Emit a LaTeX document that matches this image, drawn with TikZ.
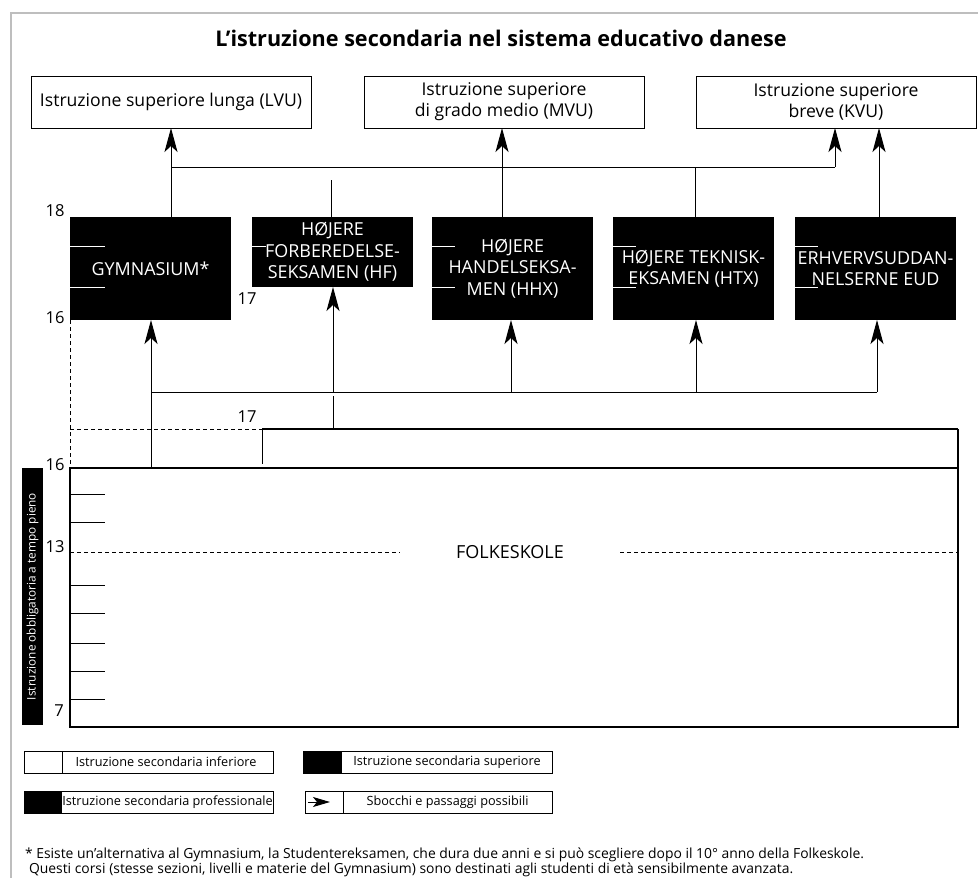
\documentclass[tikz,border=0pt]{standalone}
\usepackage{fontspec}
\setmainfont{Open Sans}
\usetikzlibrary{arrows.meta}
\begin{document}
\begin{tikzpicture}[x=1pt,y=-1pt,
  every node/.style={inner sep=0pt, outer sep=0pt},
  hibox/.style={draw, line width=1pt, minimum width=280pt, minimum height=52pt,
    align=center, font=\fontsize{17.6}{21}\selectfont},
  blackbox/.style={fill=black, minimum width=161pt, minimum height=103pt,
    text=white, align=center, font=\fontsize{17.9}{21.5}\selectfont},
  link/.style={line width=1pt},
  arr/.style={link, -{Stealth[length=24pt,width=13pt,inset=6pt]}},
  age/.style={font=\fontsize{16.5}{16}\selectfont},
  tickline/.style={line width=1pt},
  wtick/.style={draw=white, line width=1pt},
  legbox/.style={draw, line width=1pt, minimum height=22pt},
  legtext/.style={font=\fontsize{12.7}{13}\selectfont},
  dashline/.style={line width=1pt, dash pattern=on 4pt off 3pt},
]
\useasboundingbox (0,0) rectangle (978,878);
\fill[white] (0,0) rectangle (978,878);

% outer frame (top and left edges)
\draw[line width=2.5pt, draw={rgb,255:red,190;green,190;blue,190}] (11,878) -- (11,13) -- (978,13);

% title
\node[font=\bfseries\fontsize{21.6}{24}\selectfont] (title) at (501,38)
  {L’istruzione secondaria nel sistema educativo danese};

% higher education
\node[hibox] (lvu) at (171,102) {Istruzione superiore lunga (LVU)};
\node[hibox] (mvu) at (504,102) {Istruzione superiore\\di grado medio (MVU)};
\node[hibox] (kvu) at (836,102) {Istruzione superiore\\breve (KVU)};

% upper secondary programmes
\node[blackbox] (gym) at (150.5,268.5) {GYMNASIUM*};
\node[blackbox, minimum height=70pt] (hf) at (332.5,252) {HØJERE\\FORBEREDELSE-\\SEKSAMEN (HF)};
\node[blackbox] (hhx) at (512.5,268.5) {HØJERE\\HANDELSEKSA-\\MEN (HHX)};
\node[blackbox] (htx) at (693.5,268.5) {HØJERE TEKNISK-\\EKSAMEN (HTX)};
\node[blackbox] (eud) at (875.5,268.5) {ERHVERVSUDDAN-\\NELSERNE EUD};

% year marks inside the programmes
\draw[wtick] (gym.north west) ++(0,29) -- ++(35,0);
\draw[wtick] (gym.north west) ++(0,70) -- ++(35,0);
\draw[wtick] (hf.north west) ++(0,29) -- ++(14,0);
\draw[wtick] (hhx.north west) ++(0,29) -- ++(23,0);
\draw[wtick] (hhx.north west) ++(0,70) -- ++(23,0);
\draw[wtick] (htx.north west) ++(0,29) -- ++(23,0);
\draw[wtick] (htx.north west) ++(0,70) -- ++(23,0);
\draw[wtick] (eud.north west) ++(0,29) -- ++(23,0);
\draw[wtick] (eud.north west) ++(0,70) -- ++(23,0);

% connectors to higher education
\coordinate (busL) at (171,167);
\coordinate (busR) at (835,167);
\draw[arr] (lvu.south |- gym.north) -- (lvu.south);
\draw[link] (busL) -- (busR);
\draw[arr] (busR) -- (busR |- kvu.south);
\draw[arr] (502,217) -- (502,128);
\draw[link] (331,180) -- (331,217);
\draw[link] (695,167) -- (695,217);
\draw[arr] (879,217) -- (879,128);

% folkeskole
\node[draw, line width=1.2pt, minimum width=888pt, minimum height=259pt] (folk) at (514,597.5) {};
\node[font=\fontsize{18}{18}\selectfont] (folktxt) at (510,552) {FOLKESKOLE};
\draw[dashline] (folk.west |- folktxt) -- (400,552);
\draw[dashline] (620,552) -- (folk.east |- folktxt);
\foreach \yy in {494,522,585,613,643,671,699}
  \draw[tickline] (70,\yy) -- (105,\yy);

% 10th year block
\coordinate (tenL) at (262,429);
\coordinate (tenR) at (958,429);
\draw[line width=2pt] (tenL) -- (tenR);
\draw[line width=1.2pt] (tenR) -- (folk.north east);
\draw[link] (tenL) -- (262,464);
\draw[dashline] (gym.south west) -- (folk.north west);
\draw[dashline] (70,429) -- (tenL);

% connectors to upper secondary
\coordinate (lbusL) at (151,392);
\coordinate (lbusR) at (877,392);
\draw[link] (lbusL) -- (lbusR);
\draw[link] (151,468) -- (lbusL);
\draw[arr] (lbusL) -- (151,320);
\draw[arr] (333,392) -- (333,287);
\draw[arr] (511,392) -- (511,320);
\draw[arr] (696,392) -- (696,320);
\draw[arr] (lbusR) -- (877,320);
\draw[link] (333,396) -- (333,429);

% ages
\node[age] (a18) at (55,211) {18};
\node[age] (a16u) at (55,318) {16};
\node[age] (a17a) at (247,299) {17};
\node[age] (a17b) at (247,417) {17};
\node[age] (a16l) at (55,465) {16};
\node[age] (a13) at (55,547) {13};
\node[age] (a7) at (59,711) {7};

% compulsory schooling band
\node[fill=black, minimum width=257pt, minimum height=21pt, rotate=90, text=white,
  font=\fontsize{11.8}{12}\selectfont] (compul) at (32.5,596.5)
  {Istruzione obbligatoria a tempo pieno};

% legend
\node[legbox, minimum width=249pt] (leg1) at (148.5,762) {};
\draw[link] (62,751) -- (62,773);
\node[legtext] (leg1t) at (166,762) {Istruzione secondaria inferiore};

\node[legbox, minimum width=249pt] (leg2) at (427.5,762) {};
\fill (303,751) rectangle (342,773);
\node[legtext] (leg2t) at (447,762) {Istruzione secondaria superiore};

\node[legbox, minimum width=249pt] (leg3) at (148.5,802) {};
\fill (24,791) rectangle (62,813);
\node[legtext] (leg3t) at (167.5,802) {Istruzione secondaria professionale};

\node[legbox, minimum width=247pt] (leg4) at (428.5,802) {};
\draw[link] (343,791) -- (343,813);
\draw[line width=1pt, -{Stealth[length=17pt,width=10pt,inset=4pt]}] (308,802) -- (330,802);
\node[legtext] (leg4t) at (447.5,802) {Sbocchi e passaggi possibili};

% footnote
\node[anchor=west, font=\fontsize{13.9}{14}\selectfont] (fn1) at (25,855)
  {* Esiste un'alternativa al Gymnasium, la Studentereksamen, che dura due anni e si può scegliere dopo il 10° anno della Folkeskole.};
\node[anchor=west, font=\fontsize{13.9}{14}\selectfont] (fn2) at (29,870)
  {Questi corsi (stesse sezioni, livelli e materie del Gymnasium) sono destinati agli studenti di età sensibilmente avanzata.};
\end{tikzpicture}
\end{document}
